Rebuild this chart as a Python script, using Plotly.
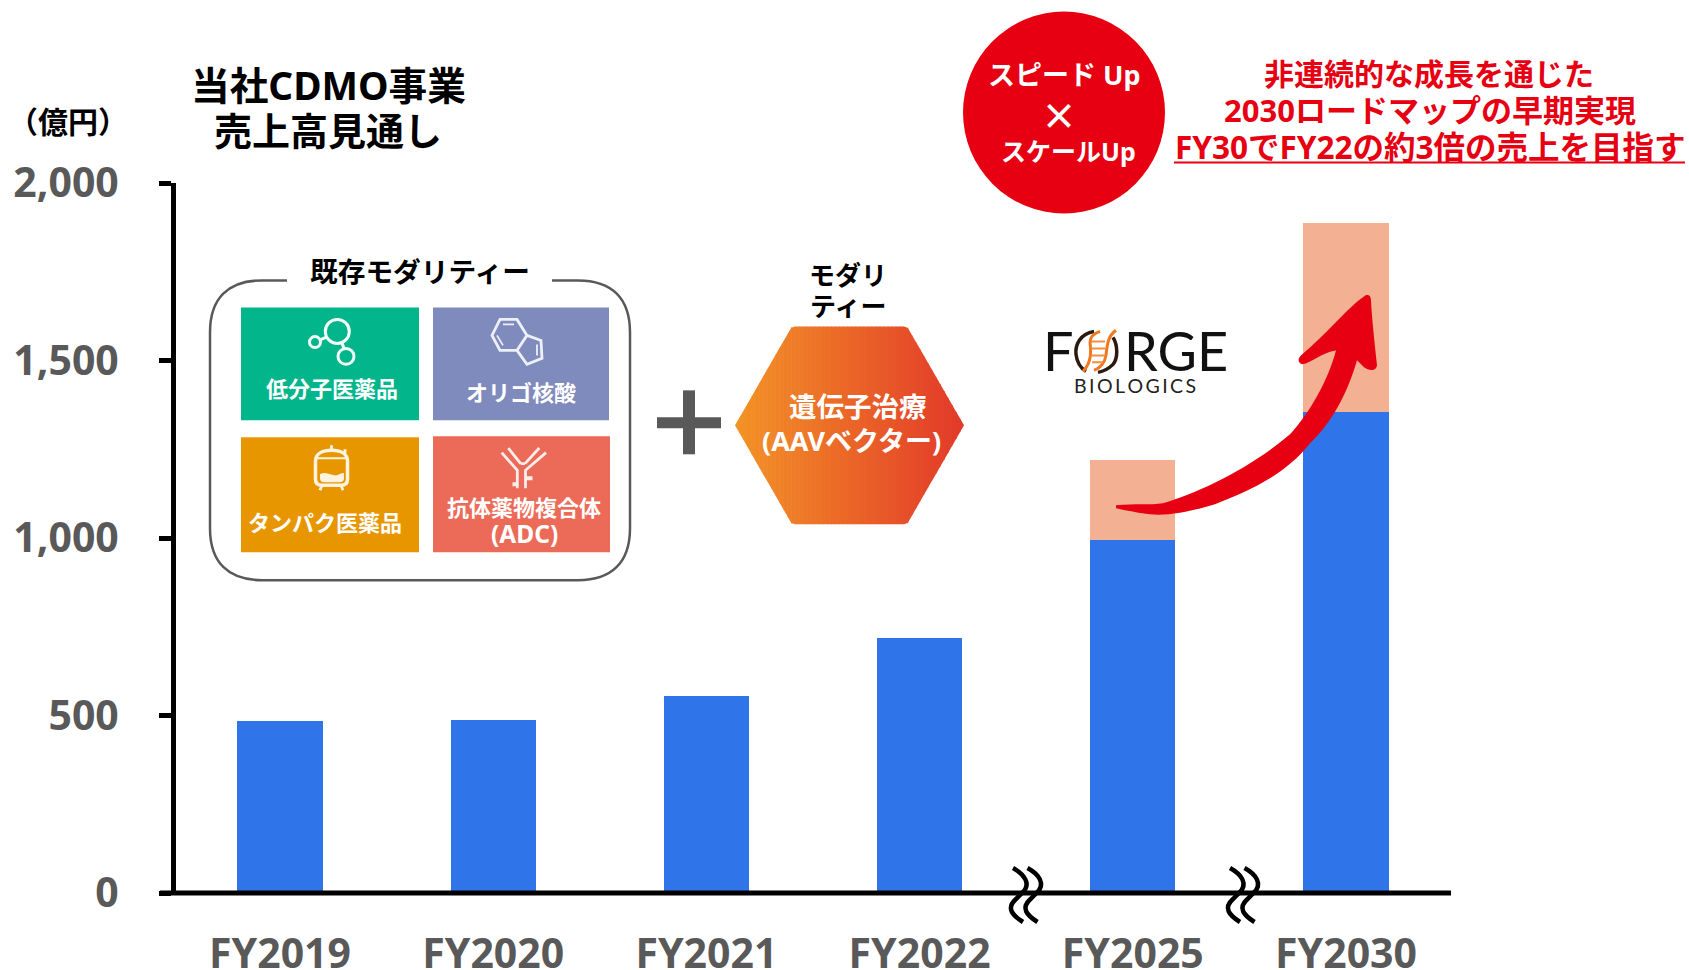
import re
import plotly.graph_objects as go

W, H = 1689, 970

# ---- data ----
categories = ["FY2019", "FY2020", "FY2021", "FY2022", "FY2025", "FY2030"]
base_sales = [485, 488, 555, 718, 994, 1355]
added_sales = [0, 0, 0, 0, 225, 531]
y_ticks = [0, 500, 1000, 1500, 2000]

BLUE = "#2F75E9"
PEACH = "#F4B093"
RED = "#E60012"
GREY = "#595959"
JP = "Noto Sans, Noto Sans CJK JP"
WHITE = "#FFFFFF"

PL, PR, PT, PB = 176, 1451, 182.5, 893
C0, STEP = 280, 213.2


def X(v):
    return (v - PL) / (PR - PL)


def Y(v):
    return (PB - v) / (PB - PT)


def P(s):
    """pixel path -> paper path"""
    return re.sub(r"(-?[\d.]+),(-?[\d.]+)",
                  lambda m: f"{X(float(m.group(1))):.5f},{Y(float(m.group(2))):.5f}", s)


shapes = []
annotations = []


def path(s, line=None, lw=0, fill=None):
    d = dict(type="path", xref="paper", yref="paper", path=P(s),
             line=dict(color=line or "rgba(0,0,0,0)", width=lw))
    if fill:
        d["fillcolor"] = fill
    shapes.append(d)


def rect(x0, y0, x1, y1, fill):
    shapes.append(dict(type="rect", xref="paper", yref="paper", x0=X(x0), x1=X(x1), y0=Y(y0), y1=Y(y1),
                       fillcolor=fill, line=dict(width=0)))


def ell(cx, cy, rx, ry, fill=None, line=None, lw=0):
    d = dict(type="circle", xref="paper", yref="paper", x0=X(cx - rx), x1=X(cx + rx), y0=Y(cy - ry), y1=Y(cy + ry),
             line=dict(color=line or "rgba(0,0,0,0)", width=lw))
    if fill:
        d["fillcolor"] = fill
    shapes.append(d)


def text(s, x, y, size, color="#000000", bold=True, family=JP, anchor="center"):
    dy = 1 if family == JP else 0
    annotations.append(dict(text=s, x=X(x), y=Y(y - dy), xref="paper", yref="paper", showarrow=False,
                            xanchor=anchor, yanchor="middle",
                            font=dict(family=family, size=size, color=color, weight=700 if bold else 400)))


# ---- category axis line and break marks ----
path("M 160,893 L 1451,893", line="#000000", lw=5)
for dx in (0, 14.5, 217, 231.5):
    path(f"M {1013+dx},868 C {1024+dx},874 {1032+dx},884 {1022+dx},893 L {1016+dx},899 "
         f"C {1006+dx},908 {1012+dx},915 {1023+dx},922", line="#000000", lw=4.5)

# ---- existing modality panel ----
path("M 287,280 L 262,280 C 228,280 210,298 210,332 L 210,528 C 210,562 228,580 262,580 "
     "L 578,580 C 612,580 630,562 630,528 L 630,332 C 630,298 612,280 578,280 L 552,280",
     line=GREY, lw=2.5)
text("既存モダリティー", 420, 272, 27.7)

rect(241, 307, 419, 420, "#03B58B")
rect(433, 307, 609, 420, "#7F8ABD")
rect(241, 437, 419, 552, "#E89600")
rect(433, 436, 610, 552, "#EC6B58")

# molecule icon
ell(337.3, 331, 12, 12, line="#F2FBF8", lw=3)
ell(315, 341.7, 5.5, 5.5, line="#F2FBF8", lw=3)
ell(346, 356, 8, 8, line="#F2FBF8", lw=3)
path("M 320,339.5 L 326,337", line="#F2FBF8", lw=3)
path("M 342,342.5 L 344,348", line="#F2FBF8", lw=3)
text("低分子医薬品", 332, 389, 22, WHITE)

# ring icon
path("M 500,319 L 517,319 L 527,335 L 517,350 L 500,350 L 492,335 Z", line="#EEF0F8", lw=2.8)
path("M 503,324 L 514,324 M 497,335 L 503,345", line="#EEF0F8", lw=1.8)
path("M 527,335 L 541,340 L 542,358 L 527,364 L 517,350", line="#EEF0F8", lw=2.8)
path("M 537,344 L 537,355", line="#EEF0F8", lw=1.8)
text("オリゴ核酸", 521, 393, 22, WHITE)

# tank icon
path("M 315.5,460 C 316,453 323,450 331.5,450 C 340,450 347,453 347.5,460 L 347.5,479 C 347.5,483 345,485 341,485 "
     "L 322,485 C 318,485 315.5,483 315.5,479 Z", line="#FDF3DF", lw=3.5)
path("M 315.5,458 L 347.5,458", line="#FDF3DF", lw=2)
path("M 320,474 C 326,470 332,476 337,475 C 340,474 343,472 344,473 L 344,478 C 344,481 342,482 339,482 "
     "L 324,482 C 321,482 320,480 320,478 Z", fill="#FDF3DF")
path("M 331.5,445 L 331.5,450 M 322,485 L 320,490 M 341,485 L 343,490 M 345,449 L 345,453", line="#FDF3DF", lw=2.8)
text("タンパク医薬品", 325, 523, 22, WHITE)

# antibody icon
path("M 517.3,488 L 517.3,470 L 501.7,452.3 M 525.5,488 L 525.5,470 L 546,452.3", line="#FBEDEA", lw=2.8)
path("M 508.3,447.7 L 520.7,463.3 M 539.3,447.7 L 525,463.3 M 520.7,463.3 L 525,463.3", line="#FBEDEA", lw=2.8)
path("M 512.5,484 L 517,484 M 526,478 L 532.5,478", line="#FBEDEA", lw=4)
text("抗体薬物複合体", 524, 508, 22, WHITE)
text("(ADC)", 524, 534, 24.5, WHITE)

# plus sign
rect(657, 417, 721, 428, GREY)
rect(683, 390, 695, 454, GREY)

# gene therapy hexagon with a left to right gradient
text("モダリ", 848, 276, 26)
text("ティー", 848, 307, 26)
HL, HR, TL, TR, HT, HB, HM = 735, 964, 792, 907, 326, 524, 425
N = 57
c0, c1 = (243, 147, 37), (226, 57, 42)


def half(x):
    if x < TL:
        return (x - HL) / (TL - HL) * (HM - HT)
    if x > TR:
        return (HR - x) / (HR - TR) * (HM - HT)
    return HM - HT


for i in range(N):
    a = HL + (HR - HL) * i / N
    b = HL + (HR - HL) * (i + 1) / N
    b2 = min(b + 0.6, HR)
    col = "rgb(" + ",".join(str(round(u + (v - u) * (i + 0.5) / N)) for u, v in zip(c0, c1)) + ")"
    pts = [(a, HM - half(a)), (b, HM - half(b)), (b2, HM - half(b2)), (b2, HM + half(b2)), (b, HM + half(b)), (a, HM + half(a))]
    path("M " + " L ".join(f"{p:.2f},{q:.2f}" for p, q in pts) + " Z", fill=col)
text("遺伝子治療", 858, 407, 27.5, WHITE)
text("(AAVベクター)", 851, 441, 27, WHITE)

# Forge logo
text("F", 1058.5, 350, 54, "#111111", bold=False, family="Lato")
text("RGE", 1176, 350, 54, "#111111", bold=False, family="Lato")
path("M 1094,331 C 1080,333 1075,345 1076,354 C 1077,362 1081,368 1086,371", line="#2A1A10", lw=3.5)
path("M 1113,337 C 1118,345 1118,358 1113,364 C 1108,369 1103,371 1098,372", line="#2A1A10", lw=3.5)
path("M 1083,371 C 1092,362 1091,350 1090,342 C 1090,336 1094,333 1100,331", line="#F07820", lw=3)
path("M 1116,330 C 1108,335 1107,345 1106,355 C 1105,362 1100,368 1094,370", line="#F07820", lw=3)
path("M 1091,341 L 1105,341 M 1091,348 L 1105,348 M 1091,355 L 1105,355 M 1092,362 L 1103,362", line="#F09040", lw=2)
text("B\u2009I\u2009O\u2009L\u2009O\u2009G\u2009I\u2009C\u2009S", 1135, 385.5, 19.5, "#222222", bold=False, family="Lato")

# red growth arrow
path("M 1116,505 C 1135,503 1150,505 1163,503 C 1200,492 1250,468 1290,434 C 1310,412 1328,380 1336,350 "
     "C 1322,352 1312,362 1302,364 C 1297,362 1298,357 1302,354 C 1325,335 1350,305 1364,296 "
     "C 1368,293 1371,295 1371,300 C 1372,320 1375,345 1377,365 C 1376,372 1368,370 1364,367 L 1357,360 "
     "C 1350,385 1335,420 1310,443 C 1285,475 1250,490 1215,504 C 1195,510 1170,516 1150,514 "
     "C 1140,513 1125,510 1116,508 Z", fill=RED)

# red circle
ell(1064, 112, 101, 101, fill=RED)
text("スピード Up", 1064, 75, 27, WHITE)
text("×", 1059, 113, 36, WHITE, family="Noto Sans CJK JP")
text("スケールUp", 1068, 151, 25, WHITE)

# red message
text("非連続的な成長を通じた", 1429, 74, 30, RED)
text("2030ロードマップの早期実現", 1429.5, 110, 31, RED)
text("FY30でFY22の約3倍の売上を目指す", 1430, 147, 31.5, RED)
path("M 1174,162 L 1685,162", line=RED, lw=2)

# titles
text("当社CDMO事業", 328, 85.5, 38.7)
text("売上高見通し", 328, 130, 38)
text("（億円）", 68, 122, 30)

fig = go.Figure()
fig.add_bar(x=categories, y=base_sales, marker=dict(color=BLUE, line=dict(width=0)))
fig.add_bar(x=categories, y=added_sales, marker=dict(color=PEACH, line=dict(width=0)))

fig.update_layout(
    width=W, height=H, autosize=False, barmode="stack", bargap=0.6, showlegend=False,
    paper_bgcolor="white", plot_bgcolor="white",
    margin=dict(l=PL, r=W - PR, t=PT, b=H - PB, pad=0),
    shapes=shapes, annotations=annotations,
    xaxis=dict(type="category", categoryorder="array", categoryarray=categories,
               range=[(PL - C0) / STEP, (PR - C0) / STEP], automargin=False,
               showline=False, ticks="", showgrid=False, zeroline=False,
               ticklabelstandoff=33, tickfont=dict(family="Noto Sans", size=41, color=GREY, weight=700)),
    yaxis=dict(range=[0, 2000], tickvals=y_ticks, tickformat=",", automargin=False,
               showline=True, linecolor="#000000", linewidth=5, ticks="outside", ticklen=12, tickwidth=5,
               tickcolor="#000000", showgrid=False, zeroline=False,
               ticklabelstandoff=32, tickfont=dict(family="Noto Sans", size=41, color=GREY, weight=700)),
)

fig.write_html("out.html", config=dict(displayModeBar=False),
               post_script="document.body.style.margin='0';document.body.style.overflow='hidden';")
